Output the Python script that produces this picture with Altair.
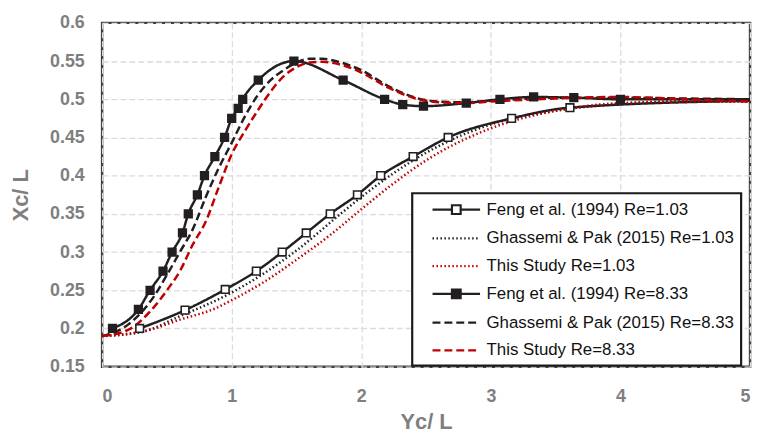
import altair as alt
import pandas as pd

SERIES = [
    "Feng et al. (1994) Re=1.03",
    "Ghassemi & Pak (2015) Re=1.03",
    "This Study Re=1.03",
    "Feng et al. (1994) Re=8.33",
    "Ghassemi & Pak (2015) Re=8.33",
    "This Study Re=8.33",
]

# Feng et al. (1994) Re=1.03 (open squares)
feng103_x = [0.29, 0.64, 0.95, 1.19, 1.39, 1.575, 1.76, 1.97, 2.15, 2.4, 2.67, 3.16, 3.61, 5.0]
feng103_y = [0.2, 0.224, 0.251, 0.275, 0.3, 0.325, 0.35, 0.375, 0.4, 0.425, 0.45, 0.475, 0.489, 0.498]

# Ghassemi & Pak (2015) Re=1.03 (black dotted)
gp103_x = [0, 0.3, 0.6, 1.0, 1.5, 1.84, 2.0, 2.5, 3.0, 3.5, 4.0, 4.5, 5.0]
gp103_y = [0.19, 0.195, 0.216, 0.247, 0.302, 0.35, 0.372, 0.43, 0.467, 0.485, 0.494, 0.497, 0.497]

# This Study Re=1.03 (red dotted)
ts103_x = [0, 0.36, 0.61, 0.87, 1.0, 1.25, 1.5, 1.75, 2.0, 2.25, 2.5, 3.0, 3.5, 4.0, 4.5, 5.0]
ts103_y = [0.19, 0.198, 0.212, 0.226, 0.237, 0.261, 0.29, 0.321, 0.356, 0.39, 0.42, 0.462, 0.485, 0.495, 0.497, 0.497]

# Feng et al. (1994) Re=8.33 (filled squares)
feng833_x = [0.08, 0.28, 0.37, 0.47, 0.54, 0.62, 0.665, 0.735, 0.79, 0.87, 0.945, 1.0, 1.05, 1.085,
             1.205, 1.48, 1.86, 2.18, 2.32, 2.48, 2.81, 3.07, 3.33, 3.64, 4.0, 5.0]
feng833_y = [0.2, 0.225, 0.25, 0.275, 0.3, 0.325, 0.35, 0.375, 0.4, 0.425, 0.45, 0.475, 0.488, 0.5,
             0.525, 0.55, 0.525, 0.5, 0.493, 0.491, 0.495, 0.5, 0.503, 0.502, 0.5, 0.5]

# Ghassemi & Pak (2015) Re=8.33 (black dashed)
gp833_x = [0, 0.2, 0.4, 0.5, 0.6, 0.7, 0.8, 0.9, 1.0, 1.1, 1.2, 1.3, 1.4, 1.5, 1.6, 1.7, 1.8,
           2.0, 2.2, 2.4, 2.6, 2.8, 3.0, 3.5, 4.0, 4.5, 5.0]
gp833_y = [0.19, 0.205, 0.242, 0.27, 0.3, 0.33, 0.372, 0.41, 0.443, 0.477, 0.505, 0.525, 0.538,
           0.548, 0.553, 0.553, 0.55, 0.538, 0.518, 0.503, 0.497, 0.496, 0.498, 0.502, 0.502, 0.501, 0.5]

# This Study Re=8.33 (red dashed)
ts833_x = [0, 0.2, 0.4, 0.5, 0.6, 0.7, 0.8, 0.9, 1.0, 1.1, 1.2, 1.3, 1.4, 1.5, 1.6, 1.7, 1.8,
           2.0, 2.2, 2.4, 2.6, 2.8, 3.0, 3.5, 4.0, 4.5, 5.0]
ts833_y = [0.19, 0.198, 0.228, 0.25, 0.275, 0.31, 0.34, 0.385, 0.428, 0.458, 0.485, 0.51, 0.53,
           0.542, 0.548, 0.549, 0.547, 0.535, 0.516, 0.502, 0.496, 0.495, 0.497, 0.501, 0.503, 0.5, 0.497]

y_ticks = [0.15, 0.2, 0.25, 0.3, 0.35, 0.4, 0.45, 0.5, 0.55, 0.6]
x_ticks = [0, 1, 2, 3, 4, 5]

rows = []
for name, xs, ys, mk in [
    (SERIES[0], feng103_x, feng103_y, True),
    (SERIES[1], gp103_x, gp103_y, False),
    (SERIES[2], ts103_x, ts103_y, False),
    (SERIES[3], feng833_x, feng833_y, True),
    (SERIES[4], gp833_x, gp833_y, False),
    (SERIES[5], ts833_x, ts833_y, False),
]:
    for x, y in zip(xs, ys):
        rows.append({"series": name, "x": x, "y": y, "marker": mk})
df = pd.DataFrame(rows)

BLACK = "#231f20"
RED = "#c00000"
stroke_scale = alt.Scale(domain=SERIES, range=[BLACK, BLACK, RED, BLACK, BLACK, RED])
dash_scale = alt.Scale(domain=SERIES, range=[[1, 0], [1.5, 2.5], [1.5, 2.5], [1, 0], [8, 4], [8, 4]])
fill_scale = alt.Scale(domain=SERIES, range=["white", "transparent", "transparent", BLACK, "transparent", "transparent"])
sq = "M-3,0H-0.55M0.55,0H3M-0.55,-0.55H0.55V0.55H-0.55Z"
ln = "M-3,0H3"
shape_scale = alt.Scale(domain=SERIES, range=[sq, ln, ln, sq, ln, ln])

FONT = "Liberation Sans"
GRAY = "#7f7f7f"

xenc = alt.X("x:Q", scale=alt.Scale(domain=[0, 5], nice=False),
             axis=alt.Axis(values=x_ticks, format="d", title="Yc/ L", grid=True))
yenc = alt.Y("y:Q", scale=alt.Scale(domain=[0.15, 0.6], nice=False, zero=False),
             axis=alt.Axis(values=y_ticks, format=".2~f", title="Xc/ L", grid=True))

leg = alt.Legend(
    title=None, orient="none", legendX=313, legendY=172,
    symbolSize=256, symbolStrokeWidth=2.2, symbolOffset=28,
    labelOffset=21, labelFont=FONT, labelFontSize=17, labelColor="#111111",
    labelLimit=400, rowPadding=10, padding=7,
    strokeColor="#1a1a1a", fillColor="white",
)

base = alt.Chart(df)

lines = base.mark_line(strokeWidth=2.5, interpolate="monotone").encode(
    x=xenc, y=yenc,
    stroke=alt.Stroke("series:N", scale=stroke_scale, legend=leg),
    strokeDash=alt.StrokeDash("series:N", scale=dash_scale, legend=leg),
    detail="series:N",
)

points = base.transform_filter("datum.marker && datum.x < 4.9").mark_point(
    shape="square", size=60, strokeWidth=1.6, opacity=1
).encode(
    x=xenc, y=yenc,
    stroke=alt.Stroke("series:N", scale=stroke_scale, legend=leg),
    fill=alt.Fill("series:N", scale=fill_scale, legend=leg),
)

legend_layer = base.transform_filter("datum.x < -100").mark_point(strokeWidth=2.2, opacity=1).encode(
    x=xenc, y=yenc,
    stroke=alt.Stroke("series:N", scale=stroke_scale, legend=leg),
    strokeDash=alt.StrokeDash("series:N", scale=dash_scale, legend=leg),
    fill=alt.Fill("series:N", scale=fill_scale, legend=leg),
    shape=alt.Shape("series:N", scale=shape_scale, legend=leg),
)

chart = alt.layer(lines, points, legend_layer).properties(
    width=654, height=347,
    padding={"left": 95, "top": 13, "right": 5, "bottom": 70},
    autosize=alt.AutoSizeParams(type="none"),
).configure_view(
    stroke="#404040", strokeWidth=2.5
).configure_legend(
    strokeWidth=2.2,
).configure_axis(
    labelFont=FONT, labelFontSize=18, labelFontWeight="bold", labelColor=GRAY,
    titleFont=FONT, titleFontSize=22, titleFontWeight="bold", titleColor=GRAY,
    domain=False, ticks=False,
    gridColor="#dcdcdc", gridDash=[6, 3], gridWidth=1.3,
).configure_axisY(
    labelPadding=18, titlePadding=17,
).configure_axisX(
    labelPadding=21, titlePadding=6,
)

chart.save("out.html", embed_options={"renderer": "svg", "actions": False})
